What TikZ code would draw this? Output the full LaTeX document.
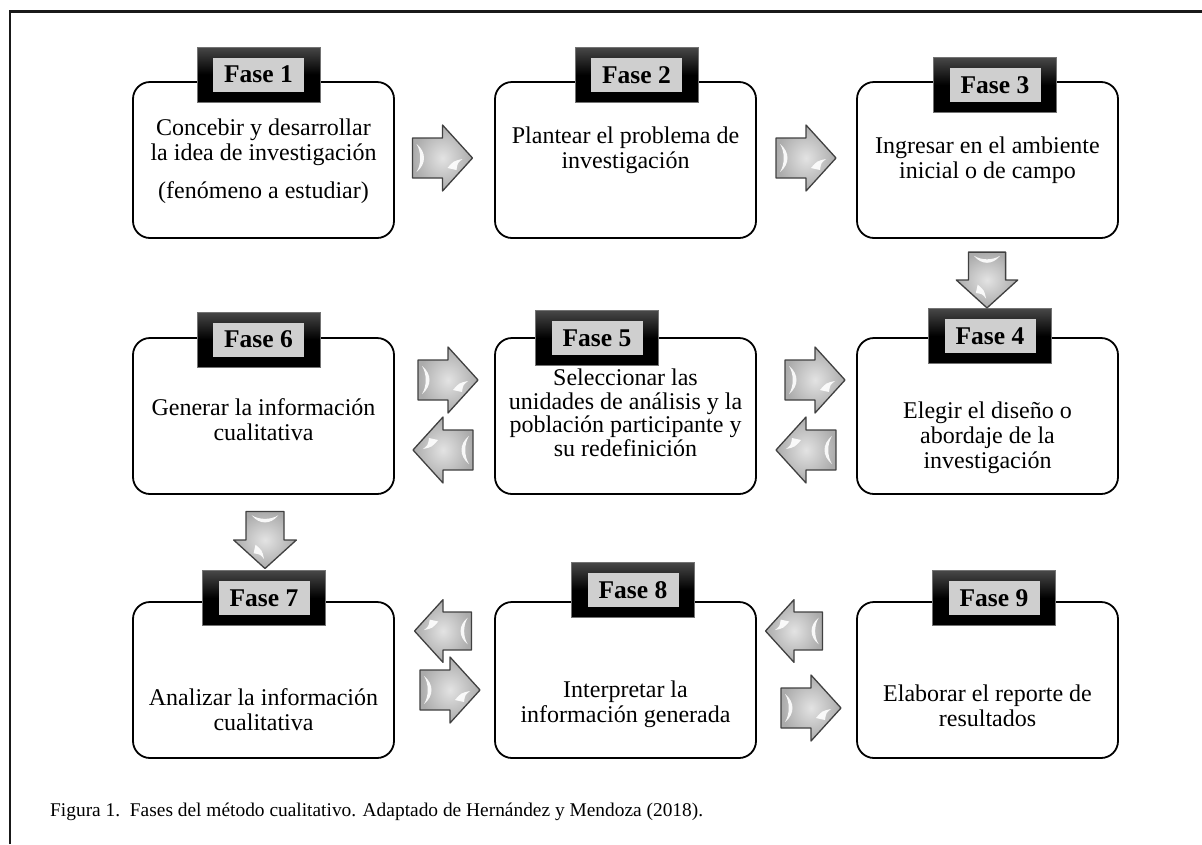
\documentclass[tikz,border=0pt]{standalone}
\usepackage{fontspec}
\setmainfont{Liberation Serif}
\newcommand{\blkarrow}[4]{%
  \begin{scope}[shift={(#1,#2)}, rotate=#3, scale=#4]
    \path[arrowbody] (-30,-20) -- (0,-20) -- (0,-33) -- (30,0) -- (0,33) -- (0,20) -- (-30,20) -- cycle;
    \fill[white, opacity=0.9] (-26,-14) .. controls (-16,-6) and (-16,6) .. (-26,14) .. controls (-21,6) and (-21,-6) .. (-26,-14) -- cycle;
    \fill[white, opacity=0.9] (5,10) .. controls (11,3) .. (20,1) .. controls (15,5) .. (14,12) -- cycle;
  \end{scope}}
\begin{document}
\begin{tikzpicture}[x=1pt,y=-1pt,
  stepbox/.style={draw=black, line width=1.8pt, rounded corners=17pt, minimum width=261pt, minimum height=156pt, fill=white, inner sep=0pt},
  faseouter/.style={draw=black!55, line width=0.6pt, top color=black!72, bottom color=black, middle color=black, minimum width=123pt, minimum height=55pt, inner sep=0pt},
  faseinner/.style={fill=gray!38, minimum width=91pt, minimum height=34pt, inner sep=0pt, font=\bfseries\fontsize{25.5}{28}\selectfont},
  boxtext/.style={align=center, font=\fontsize{24}{25}\selectfont, inner sep=0pt},
  arrowbody/.style={draw=black!75, line width=1.3pt, shading=radial, inner color=gray!22, outer color=gray!66, line join=round}
]
\useasboundingbox (0,0) rectangle (1202,844);
\draw[line width=2.5pt, black!90] (10,844) -- (10,11.5) -- (1202,11.5);

% boxes
\node[stepbox] (b1) at (263.5,160) {};
\node[stepbox] (b2) at (625.5,160) {};
\node[stepbox] (b3) at (987.5,160) {};
\node[stepbox] (b6) at (263.5,416) {};
\node[stepbox] (b5) at (625.5,416) {};
\node[stepbox] (b4) at (987.5,416) {};
\node[stepbox] (b7) at (263.5,680) {};
\node[stepbox] (b8) at (625.5,680) {};
\node[stepbox] (b9) at (987.5,680) {};

% texts
\node[boxtext] (t1) at (263.5,161) {Concebir y desarrollar\\la idea de investigación\\[13pt](fenómeno a estudiar)};
\node[boxtext] (t2) at (625.5,150) {Plantear el problema de\\investigación};
\node[boxtext] (t3) at (987.5,160) {Ingresar en el ambiente\\inicial o de campo};
\node[boxtext] (t6) at (263.5,420) {Generar la información\\cualitativa};
\node[boxtext, font=\fontsize{24}{23.5}\selectfont] (t5) at (625.5,413) {Seleccionar las\\unidades de análisis y la\\población participante y\\su redefinición};
\node[boxtext] (t4) at (987.5,438) {Elegir el diseño o\\abordaje de la\\investigación};
\node[boxtext] (t7) at (263.5,710) {Analizar la información\\cualitativa};
\node[boxtext] (t8) at (625.5,704) {Interpretar la\\información generada};
\node[boxtext] (t9) at (987.5,706) {Elaborar el reporte de\\resultados};

% labels
\node[faseouter] (f1) at (258.5,74.5) {}; \node[faseinner] (f1t) at (f1) {Fase 1};
\node[faseouter] (f2) at (636.5,75) {};   \node[faseinner] (f2t) at (f2) {Fase 2};
\node[faseouter] (f3) at (995,85) {};     \node[faseinner] (f3t) at (f3) {Fase 3};
\node[faseouter] (f6) at (258.5,339.5) {};\node[faseinner] (f6t) at (f6) {Fase 6};
\node[faseouter] (f5) at (597,338) {};    \node[faseinner] (f5t) at (f5) {Fase 5};
\node[faseouter] (f4) at (990,336) {};    \node[faseinner] (f4t) at (f4) {Fase 4};
\node[faseouter] (f7) at (264,598) {};    \node[faseinner] (f7t) at (f7) {Fase 7};
\node[faseouter] (f8) at (633,590) {};    \node[faseinner] (f8t) at (f8) {Fase 8};
\node[faseouter] (f9) at (994,598) {};    \node[faseinner] (f9t) at (f9) {Fase 9};

% arrows
\blkarrow{442.5}{158}{0}{1}
\blkarrow{806}{158}{0}{1}
\blkarrow{987}{280}{-90}{0.93}
\blkarrow{448}{380}{0}{1}
\blkarrow{443}{450}{180}{1}
\blkarrow{815}{380}{0}{1}
\blkarrow{806}{450}{180}{1}
\blkarrow{265}{540}{-90}{0.95}
\blkarrow{443}{631}{180}{0.95}
\blkarrow{450}{690}{0}{1}
\blkarrow{794}{631}{180}{0.95}
\blkarrow{811}{708}{0}{1}

\node[anchor=base west, inner sep=0pt, font=\fontsize{19.4}{21}\selectfont] (cap) at (50,816) {Figura 1.\ \ Fases del método cualitativo. Adaptado de Hernández y Mendoza (2018).};
\end{tikzpicture}
\end{document}
